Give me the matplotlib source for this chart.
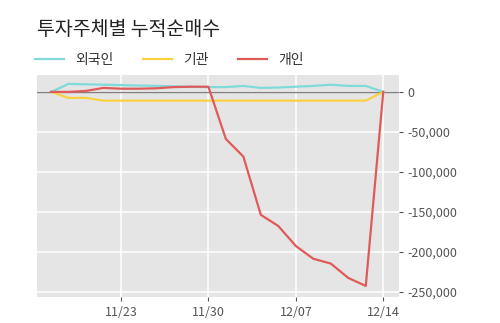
import matplotlib
matplotlib.use("Agg")
import matplotlib.pyplot as plt
from matplotlib.ticker import FuncFormatter

plt.rcParams['font.family'] = ['Noto Sans CJK KR', 'DejaVu Sans']

dates = ["11/17", "11/18", "11/19", "11/20", "11/23", "11/24", "11/25", "11/26", "11/27",
         "11/30", "12/01", "12/02", "12/03", "12/04", "12/07", "12/08", "12/09", "12/10",
         "12/11", "12/14"]
foreign = [0, 10000, 9500, 9000, 8500, 8000, 7500, 7000, 6500, 6000, 6000, 7500, 5000,
           5500, 6500, 7500, 9000, 7500, 7500, 0]
institution = [0, -7500, -7500, -11000, -11000, -11000, -11000, -11000, -11000, -11000,
               -11000, -11000, -11000, -11000, -11000, -11000, -11000, -11000, -11000, 0]
individual = [0, 0, 1250, 5000, 4000, 4000, 4500, 6000, 6500, 6500, -59000, -81000,
              -154000, -168000, -193000, -209000, -215000, -233000, -243000, 0]
tick_labels = ["11/23", "11/30", "12/07", "12/14"]
series_names = ["외국인", "기관", "개인"]
colors = ["#7fdbda", "#f9d142", "#e05a5a"]

fig = plt.figure(figsize=(5.0, 3.23), dpi=100)
ax = fig.add_axes([0.074, 0.0805, 0.724, 0.6875])
ax.set_facecolor("#e5e5e5")
for s in ax.spines.values():
    s.set_visible(False)

x = list(range(len(dates)))
ax.axhline(0, color="#808080", lw=1.0, zorder=2)
for vals, c, name in zip([foreign, institution, individual], colors, series_names):
    ax.plot(x, vals, color=c, lw=1.6, label=name, zorder=3)

ticks = [dates.index(t) for t in tick_labels]
ax.set_xticks(ticks)
ax.set_xticklabels(tick_labels)
ax.set_xlim(-0.8, 19.9)
ax.set_ylim(-256875, 21250)
ax.set_yticks([0, -50000, -100000, -150000, -200000, -250000])
ax.yaxis.set_major_formatter(FuncFormatter(lambda v, p: f"{int(v):,}"))
ax.yaxis.tick_right()
ax.grid(True, color="white", lw=1.1, zorder=1)
ax.set_axisbelow(True)
ax.tick_params(axis="both", colors="#555555", labelsize=9, length=3, width=0.8)
ax.tick_params(axis="y", pad=3)

fig.text(0.074, 0.91, "투자주체별 누적순매수", fontsize=14, color="#222222", va="center")
handles, labels = ax.get_legend_handles_labels()
fig.legend(handles, labels, loc="center left", bbox_to_anchor=(0.045, 0.815), ncol=3,
           frameon=False, fontsize=10, handlelength=2.1, columnspacing=2.1,
           handletextpad=0.8, labelcolor="#333333")

fig.savefig("out.png", dpi=100)
